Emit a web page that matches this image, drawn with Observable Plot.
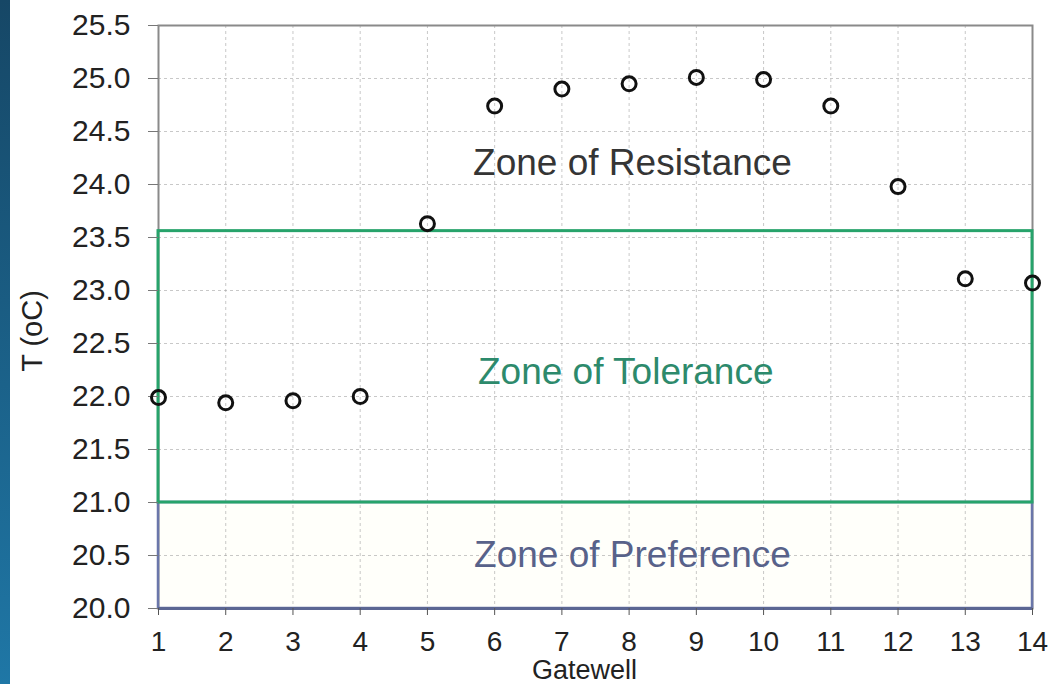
<!DOCTYPE html>
<html>
<head>
<meta charset="utf-8">
<script src="https://cdn.jsdelivr.net/npm/d3@7"></script>
<script src="https://cdn.jsdelivr.net/npm/@observablehq/plot@0.6"></script>
<style>
  html, body { margin: 0; padding: 0; background: #fff; }
  #wrap { position: relative; width: 1060px; height: 684px; overflow: hidden; background: #fff; }
  #strip { position: absolute; left: 0; top: 0; width: 10px; height: 684px;
           background: linear-gradient(#164766, #1f77a6); }
  #chart { position: absolute; left: 0; top: 0; }
</style>
</head>
<body>
<div id="wrap"><div id="chart"></div><div id="strip"></div></div>
<script>
// Mean water temperature at each gatewell
const gatewell = [1, 2, 3, 4, 5, 6, 7, 8, 9, 10, 11, 12, 13, 14];
const temperature = [21.99, 21.94, 21.96, 22.00, 23.63, 24.74, 24.90, 24.95, 25.01, 24.99, 24.74, 23.98, 23.11, 23.07];

// Axis ticks
const yTicks = [20.0, 20.5, 21.0, 21.5, 22.0, 22.5, 23.0, 23.5, 24.0, 24.5, 25.0, 25.5];

// Thermal zones (lower / upper bound in °C) and where their names sit
const zoneNames = ["Zone of Resistance", "Zone of Tolerance", "Zone of Preference"];
const zoneLow = [23.56, 21.0, 20.0];
const zoneHigh = [25.5, 23.56, 21.0];
const zoneLabelX = [8.05, 7.95, 8.05];
const zoneLabelY = [24.2, 22.23, 20.5];
const zoneTextColors = ["#353535", "#2d8a6c", "#58628a"];

const points = gatewell.map((g, i) => ({gatewell: g, temp: temperature[i]}));
const zones = zoneNames.map((name, i) => ({
  name, low: zoneLow[i], high: zoneHigh[i],
  lx: zoneLabelX[i], ly: zoneLabelY[i], color: zoneTextColors[i]
}));
const xMin = d3.min(gatewell), xMax = d3.max(gatewell);

const chart = Plot.plot({
  width: 1060,
  height: 684,
  marginLeft: 158,
  marginRight: 28,
  marginTop: 25,
  marginBottom: 76,
  style: {fontFamily: "'Liberation Sans', Arial, sans-serif", background: "transparent"},
  x: {domain: [xMin, xMax]},
  y: {domain: [d3.min(yTicks), d3.max(yTicks)]},
  marks: [
    // preference zone fill
    Plot.rect(zones.slice(2), {x1: xMin, x2: xMax, y1: "low", y2: "high", fill: "#fffffa"}),
    Plot.gridX(gatewell, {stroke: "#9a9a9a", strokeOpacity: 0.55, strokeDasharray: "3,3"}),
    Plot.gridY(yTicks, {stroke: "#9a9a9a", strokeOpacity: 0.55, strokeDasharray: "3,3"}),
    Plot.frame({stroke: "#8a8a8a", strokeWidth: 2}),
    // preference zone outline
    Plot.rect(zones.slice(2), {x1: xMin, x2: xMax, y1: "low", y2: "high", fill: "none", stroke: "#6a76aa", strokeWidth: 2.5}),
    Plot.ruleY([zoneLow[2]], {x1: xMin, x2: xMax, stroke: "#5b6692", strokeWidth: 3}),
    // tolerance zone outline
    Plot.rect(zones.slice(1, 2), {x1: xMin, x2: xMax, y1: "low", y2: "high", fill: "none", stroke: "#27a36b", strokeWidth: 3}),
    Plot.axisY(yTicks, {
      tickSize: 10, tickPadding: 18, tickFormat: d => d.toFixed(1),
      fontSize: 30, stroke: "#777", fill: "#222", label: null
    }),
    Plot.axisX(gatewell, {
      tickSize: 7, tickPadding: 16, tickFormat: d => String(d),
      fontSize: 28, stroke: "#555", fill: "#222", label: null
    }),
    Plot.text(zones, {x: "lx", y: "ly", text: "name", fill: "color", fontSize: 37}),
    Plot.dot(points, {x: "gatewell", y: "temp", r: 7, stroke: "#111", strokeWidth: 3, fill: "none"}),
    Plot.text(["Gatewell"], {frameAnchor: "bottom", dx: -11, dy: 70, fontSize: 27, fill: "#222"}),
    Plot.text(["T (oC)"], {frameAnchor: "left", textAnchor: "middle", dx: -126, dy: 14, rotate: -90, fontSize: 29, fill: "#222"})
  ]
});
document.getElementById("chart").appendChild(chart);
</script>
</body>
</html>
